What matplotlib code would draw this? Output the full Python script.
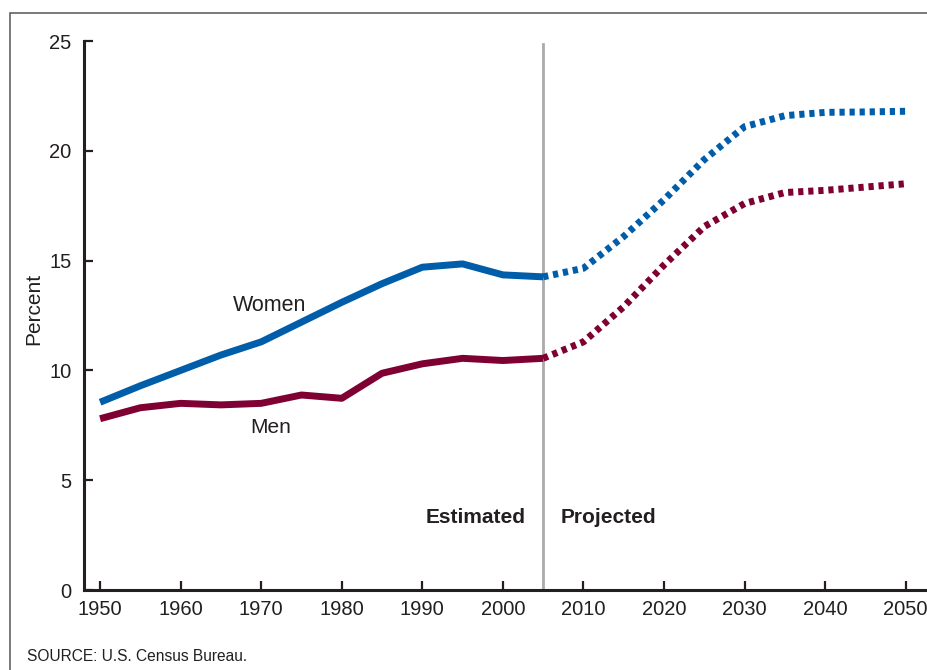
import matplotlib.pyplot as plt
from matplotlib.patches import Rectangle

plt.rcParams['font.family'] = ['Liberation Sans', 'DejaVu Sans']

# dati stimati
anni_est = [1950, 1955, 1960, 1965, 1970, 1975, 1980, 1985, 1990, 1995, 2000, 2005]
donne_est = [8.55, 9.3, 10.0, 10.7, 11.3, 12.2, 13.1, 13.95, 14.7, 14.85, 14.35, 14.26]
uomini_est = [7.8, 8.3, 8.5, 8.43, 8.5, 8.88, 8.73, 9.87, 10.3, 10.55, 10.45, 10.55]

# dati proiettati
anni_proj = [2005, 2010, 2015, 2020, 2025, 2030, 2035, 2040, 2045, 2050]
donne_proj = [14.26, 14.65, 16.1, 17.77, 19.6, 21.1, 21.6, 21.75, 21.77, 21.8]
uomini_proj = [10.55, 11.3, 12.9, 14.8, 16.55, 17.6, 18.1, 18.2, 18.35, 18.5]

tick_anni = [1950, 1960, 1970, 1980, 1990, 2000, 2010, 2020, 2030, 2040, 2050]
tick_perc = [0, 5, 10, 15, 20, 25]

blu = '#005DAA'
bordeaux = '#7F0032'
nero = '#231F20'

fig = plt.figure(figsize=(9.28, 6.7), dpi=100)
ax = fig.add_axes([0.0905, 0.1194, 0.9063, 0.8194])

# cornice grigia
fig.patches.append(Rectangle((0.011, -0.5), 1.5, 1.48, transform=fig.transFigure,
                             fill=False, edgecolor='#555555', linewidth=1.1))

ax.axvline(2005, ymin=0, ymax=0.995, color='#AAAAAA', linewidth=2, zorder=1)

ax.plot(anni_est, donne_est, color=blu, linewidth=5, solid_capstyle='butt', zorder=3)
ax.plot(anni_est, uomini_est, color=bordeaux, linewidth=5, solid_capstyle='butt', zorder=3)
ax.plot(anni_proj, donne_proj, color=blu, linewidth=5, linestyle=(0, (0.75, 0.7)),
        dash_capstyle='butt', zorder=3)
ax.plot(anni_proj, uomini_proj, color=bordeaux, linewidth=5, linestyle=(0, (0.75, 0.7)),
        dash_capstyle='butt', zorder=3)

ax.set_xlim(1948, 2052.4)
ax.set_ylim(0, 25)
ax.set_xticks(tick_anni)
ax.set_yticks(tick_perc)

for lato in ['top', 'right']:
    ax.spines[lato].set_visible(False)
for lato in ['left', 'bottom']:
    ax.spines[lato].set_linewidth(2.2)
    ax.spines[lato].set_color(nero)

ax.tick_params(direction='in', length=6.5, width=1.6, color=nero,
               labelsize=14.5, labelcolor=nero)
ax.tick_params(axis='x', pad=7)
ax.tick_params(axis='y', pad=9)

ax.set_ylabel('Percent', fontsize=15, color=nero)
ax.yaxis.set_label_coords(-0.048, 0.512)

ax.text(1971, 12.95, 'Women', fontsize=15.5, color=nero, ha='center', va='center')
ax.text(1971.2, 7.4, 'Men', fontsize=15, color=nero, ha='center', va='center')
ax.text(2002.8, 3.28, 'Estimated', fontsize=15, fontweight='bold', color=nero,
        ha='right', va='center')
ax.text(2007.2, 3.28, 'Projected', fontsize=15, fontweight='bold', color=nero,
        ha='left', va='center')

fig.text(0.029, 0.02, 'SOURCE: U.S. Census Bureau.', fontsize=11.2, color=nero,
         ha='left', va='center')

fig.savefig('out.png', dpi=100)
